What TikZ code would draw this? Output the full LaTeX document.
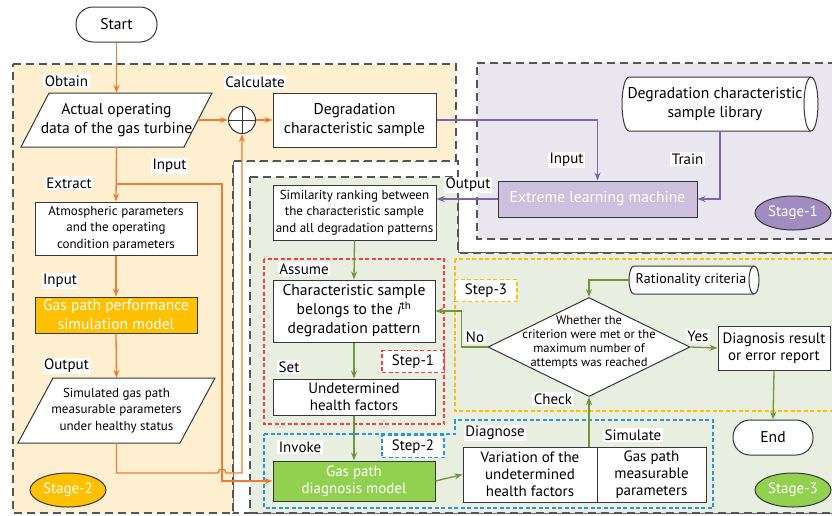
\documentclass[tikz,border=0pt]{standalone}
\usepackage{fontspec}
\setmainfont{PT Sans}
\usetikzlibrary{shapes.geometric,arrows.meta,calc}
\definecolor{orgfill}{RGB}{253,239,208}
\definecolor{purfill}{RGB}{234,230,240}
\definecolor{grnfill}{RGB}{233,239,224}
\definecolor{orgline}{RGB}{237,125,49}
\definecolor{grnline}{RGB}{112,150,60}
\definecolor{purline}{RGB}{128,100,170}
\definecolor{elmfill}{RGB}{204,192,220}
\definecolor{amber}{RGB}{255,192,0}
\definecolor{lgreen}{RGB}{146,208,80}
\definecolor{stagepur}{RGB}{160,140,190}
\definecolor{bd}{RGB}{55,55,55}
\definecolor{regbd}{RGB}{85,85,85}
\definecolor{stepred}{RGB}{255,60,60}
\definecolor{stepyel}{RGB}{255,192,0}
\definecolor{stepblu}{RGB}{40,150,215}
\newcommand\fmain{\fontsize{15.6}{19}\selectfont}
\newcommand\fmid{\fontsize{15}{17}\selectfont}
\newcommand\fsmall{\fontsize{13}{16.5}\selectfont}
\newcommand\fdia{\fontsize{12.5}{14}\selectfont}
\newcommand\flab{\fontsize{15}{17}\selectfont}
\tikzset{
  region/.style={draw=regbd, line width=1.3pt, dash pattern=on 8pt off 5pt},
  stepregion/.style={line width=1.1pt, dash pattern=on 4pt off 2.5pt},
  boxnode/.style={draw=bd, fill=white, line width=1pt, align=center, inner sep=0pt},
  plainnode/.style={align=center, inner sep=0pt},
  term/.style={draw=bd, fill=white, line width=1pt, rounded corners=17pt, inner sep=0pt, font=\fmain},
  lbl/.style={fill=white, inner sep=1.5pt, font=\flab},
  steplbl/.style={fill=white, stepregion, minimum width=62pt, minimum height=22pt, inner sep=0pt, font=\flab},
  stageell/.style={ellipse, draw=bd, line width=1pt, minimum width=76pt, minimum height=34pt, inner sep=0pt, text=white, font=\fmid},
  oline/.style={draw=orgline, line width=1.3pt},
  pline/.style={draw=purline, line width=1.3pt},
  gline/.style={draw=grnline, line width=1.3pt},
  >={Stealth[length=8pt,width=6pt]}
}
\begin{document}
\begin{tikzpicture}[x=1pt,y=-1pt]
\useasboundingbox (0,0) rectangle (832,515);
% regions
\draw[region, fill=white] (233,161) -- (458,161) -- (458,253) -- (840,253) -- (840,513) -- (233,513) -- cycle;
\draw[region, fill=orgfill] (13,64) -- (456,64) -- (456,161) -- (233,161) -- (233,513) -- (13,513) -- cycle;
\draw[region, fill=purfill] (477,63) -- (840,63) -- (840,239) -- (477,239) -- cycle;
\draw[region, fill=grnfill] (250,177) -- (458,177) -- (458,253) -- (840,253) -- (840,513) -- (250,513) -- cycle;
\draw[stepregion, draw=stepred] (264,259) rectangle (444,424);
\draw[stepregion, draw=stepyel] (455,259) rectangle (840,411);
\draw[stepregion, draw=stepblu] (264,434) -- (455,434) -- (455,420) -- (713,420) -- (713,508) -- (264,508) -- cycle;

% stage 2 column
\node[term, minimum width=81pt, minimum height=35pt] (start) at (116.5,24.5) {Start};
\draw[draw=bd, line width=1pt, fill=white] (49,93) -- (212,93) -- (184,147) -- (21,147) -- cycle;
\node[plainnode, font=\fmain, minimum width=163pt, minimum height=54pt] (actual) at (116.5,120) {Actual operating\\data of the gas turbine};
\node[boxnode, font=\fsmall, minimum width=162pt, minimum height=53pt] (atm) at (116,228.5) {Atmospheric parameters\\and the operating\\condition parameters};
\node[boxnode, fill=amber, text=white, font=\fmain, minimum width=162pt, minimum height=36pt] (gpsm) at (116,315) {Gas path performance\\simulation model};
\draw[draw=bd, line width=1pt, fill=white] (53,378) -- (215,378) -- (180,443) -- (18,443) -- cycle;
\node[plainnode, font=\fsmall, minimum width=162pt, minimum height=65pt] (sim) at (116.5,410.5) {Simulated gas path\\measurable parameters\\under healthy status};
\node[stageell, fill=amber] (st2) at (68,490) {Stage-2};

\node[circle, draw=bd, line width=1pt, fill=white, minimum size=27pt, inner sep=0pt] (plus) at (242,120) {};
\draw[draw=bd, line width=1pt] (plus.north) -- (plus.south) (plus.west) -- (plus.east);
\node[boxnode, font=\fmain, minimum width=163pt, minimum height=54pt] (dcs) at (354.5,120) {Degradation\\characteristic sample};

% stage 1
\node[plainnode, font=\fmain, minimum width=196pt, minimum height=54pt] (lib) at (720,104) {};
\draw[draw=bd, line width=1pt, fill=white] (629,77) arc[start angle=90, end angle=270, x radius=7pt, y radius=27pt] -- (811,131) arc[start angle=-90, end angle=90, x radius=7pt, y radius=27pt] -- cycle;
\draw[draw=bd, line width=1pt] (811,77) arc[start angle=90, end angle=270, x radius=7pt, y radius=27pt];
\node[plainnode, font=\fmain] at (715,104) {Degradation characteristic\\sample library};
\node[boxnode, fill=elmfill, text=white, font=\fmain, minimum width=199pt, minimum height=36pt] (elm) at (597.5,199) {Extreme learning machine};
\node[stageell, fill=stagepur] (st1) at (793,213) {Stage-1};

% stage 3
\node[boxnode, font=\fsmall, minimum width=163pt, minimum height=55pt] (sr) at (354.5,212.5) {Similarity ranking between\\the characteristic sample\\and all degradation patterns};
\node[boxnode, font=\fmain, minimum width=162pt, minimum height=62pt] (cs) at (354,311) {Characteristic sample\\belongs to the {\itshape i}\textsuperscript{th}\\degradation pattern};
\node[boxnode, font=\fmid, minimum width=162pt, minimum height=36pt] (ud) at (354,397) {Undetermined\\health factors};
\node[boxnode, fill=lgreen, text=white, font=\fmid, minimum width=162pt, minimum height=40pt] (gpd) at (354,481) {Gas path\\diagnosis model};
\node[boxnode, font=\fmid, minimum width=134pt, minimum height=55pt] (var) at (530,474.5) {Variation of the\\undetermined\\health factors};
\node[boxnode, font=\fmid, minimum width=109pt, minimum height=55pt] (gpm) at (651.5,474.5) {Gas path\\measurable\\parameters};
\node[diamond, draw=bd, line width=1pt, fill=white, minimum width=202pt, minimum height=99pt, inner sep=0pt] (dia) at (589,347) {};
\node[plainnode, font=\fdia] at (589,342) {Whether the\\criterion were met or the\\maximum number of\\attempts was reached};
\draw[draw=bd, line width=1pt, fill=white] (634,266) arc[start angle=90, end angle=270, x radius=5pt, y radius=14pt] -- (754,294) arc[start angle=-90, end angle=90, x radius=5pt, y radius=14pt] -- cycle;
\draw[draw=bd, line width=1pt] (754,266) arc[start angle=90, end angle=270, x radius=5pt, y radius=14pt];
\node[plainnode, minimum width=130pt, minimum height=28pt] (rc) at (694,280) {};
\node[plainnode, font=\fontsize{14}{16}\selectfont] at (691,280) {Rationality criteria};
\node[boxnode, font=\fmid, minimum width=112pt, minimum height=44pt] (res) at (774,348) {Diagnosis result\\or error report};
\node[term, minimum width=80pt, minimum height=35pt] (end) at (773,437.5) {End};
\node[stageell, fill=lgreen] (st3) at (793,490) {Stage-3};

\node[steplbl, draw=stepred] (s1) at (413,361.5) {Step-1};
\node[steplbl, draw=stepblu] (s2) at (413,446.5) {Step-2};
\node[steplbl, draw=stepyel] (s3) at (486,290.5) {Step-3};

% orange connectors
\coordinate (j1) at (116.5,184);
\coordinate (k1) at (222,184);
\coordinate (j2) at (116.5,473);
\draw[oline,->] (start.south) -- (actual.north);
\draw[oline,->] (actual.east) -- (plus.west);
\draw[oline,->] (plus.east) -- (dcs.west);
\draw[oline,->] (actual.south) -- (atm.north);
\draw[oline,->] (j1) -- (k1) |- (gpd.west);
\draw[oline,->] (atm.south) -- (gpsm.north);
\draw[oline,->] (gpsm.south) -- (sim.north);
\draw[oline,->] (sim.south) -- (j2) -- (218,473) arc[start angle=180, end angle=0, radius=4pt] -- (242,473) -- (plus.south);

% purple connectors
\draw[pline,->] (dcs.east) -| (elm.north);
\draw[pline,->] (lib.south) |- (elm.east);
\draw[pline,->] (elm.west) -- (elm.west -| sr.east);

% green connectors
\draw[gline,->] (sr.south) -- (cs.north);
\draw[gline,->] (cs.south) -- (ud.north);
\draw[gline,->] (ud.south) -- (gpd.north);
\draw[gline,->] (gpd.east) -- (var.west);
\draw[gline,->] (var.north -| dia.south) -- (dia.south);
\draw[gline,->] (rc.west) -| (dia.north);
\draw[gline,->] (dia.west) -- ++(-26,0) |- (cs.east);
\draw[gline,->] (dia.east) -- (res.west);
\draw[gline,->] (res.south) -- (end.north);

% labels
\node[lbl] at (66.5,81) {Obtain};
\node[lbl] at (255,82) {Calculate};
\node[lbl] at (169.5,166) {Input};
\node[lbl] at (69,183) {Extract};
\node[lbl] at (60,281) {Input};
\node[lbl] at (66.5,366) {Output};
\node[lbl] at (566.5,160) {Input};
\node[lbl] at (687.5,159) {Train};
\node[lbl] at (468,185) {Output};
\node[lbl] at (304,269) {Assume};
\node[lbl] at (289,367) {Set};
\node[lbl] at (300,447) {Invoke};
\node[lbl] at (495,433) {Diagnose};
\node[lbl] at (633,435) {Simulate};
\node[lbl] at (475,337) {No};
\node[lbl] at (698,336) {Yes};
\node[lbl] at (553,399) {Check};
\end{tikzpicture}
\end{document}
